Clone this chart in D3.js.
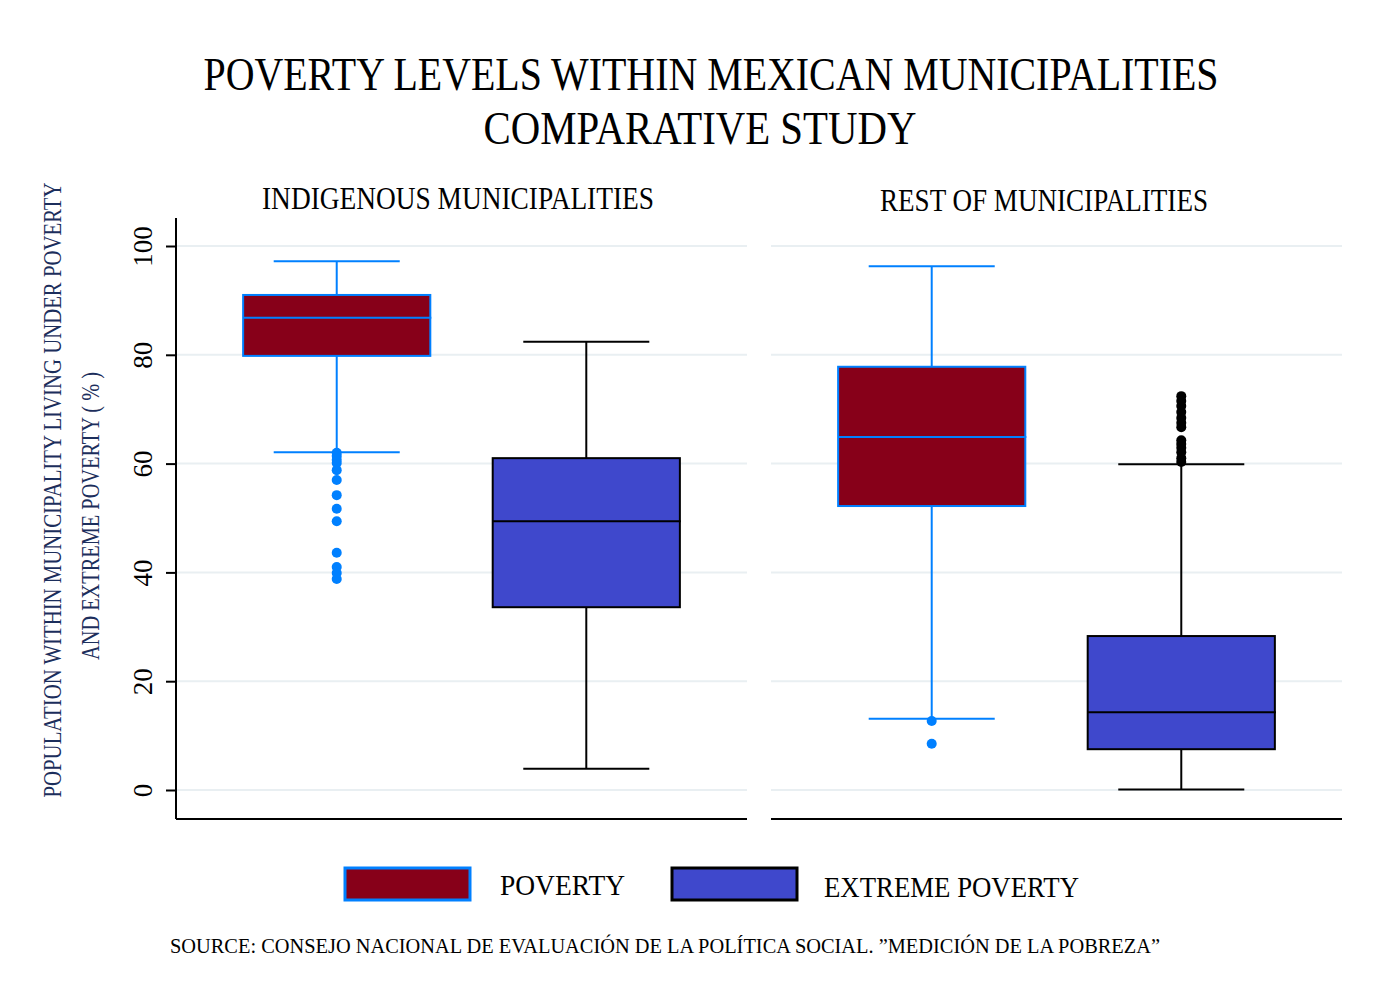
<!DOCTYPE html>
<html>
<head>
<meta charset="utf-8">
<script src="https://cdn.jsdelivr.net/npm/d3@7"></script>
<style>
  body { margin: 0; background: #fff; }
  text { font-family: "Liberation Serif", "DejaVu Serif", serif; }
</style>
</head>
<body>
<svg id="chart" width="1378" height="996"></svg>
<script>
// panels and series
const panels = ["INDIGENOUS MUNICIPALITIES", "REST OF MUNICIPALITIES"];
const series = ["POVERTY", "EXTREME POVERTY"];
const yTicks = [0, 20, 40, 60, 80, 100];

// box stats per panel: [lowWhisker, q1, median, q3, highWhisker]
const povertyStats = [[62.1, 79.8, 86.8, 91.0, 97.2], [13.1, 52.2, 64.9, 77.8, 96.3]];
const extremeStats = [[3.9, 33.6, 49.4, 61.0, 82.4], [0.1, 7.5, 14.3, 28.3, 59.9]];

// outliers
const povertyOutliers = [
    [62.0, 61.4, 60.7, 60.1, 58.8, 57.0, 54.2, 51.7, 49.4, 43.6, 41.0, 39.9, 38.8],
    [12.7, 8.5]
];
const extremeOutliers = [
    [],
    [72.4, 71.5, 70.6, 69.5, 68.4, 67.5, 66.7, 64.3, 63.6, 62.9, 62.1, 61.0, 60.3]
];

const fills = { "POVERTY": "#870019", "EXTREME POVERTY": "#3f48cc" };
const strokes = { "POVERTY": "#0080ff", "EXTREME POVERTY": "#000000" };

const svg = d3.select("#chart");

const y = d3.scaleLinear().domain([0, 100]).range([790, 246]);
const panelX = d3.scaleBand().domain(panels).range([176, 1342]).paddingInner(0.0403);
const xInner = d3.scalePoint().domain(series).range([0, panelX.bandwidth()]).padding(0.644);
const step = xInner.step();
const boxW = step * 0.75;
const capW = step * 0.505;
const yTop = y(105.15), yBot = y(-5.33);

// Titles
svg.append("text")
    .attr("x", 711).attr("y", 90)
    .attr("text-anchor", "middle")
    .attr("font-size", 46)
    .attr("textLength", 1015).attr("lengthAdjust", "spacingAndGlyphs")
    .text("POVERTY LEVELS WITHIN MEXICAN MUNICIPALITIES");

svg.append("text")
    .attr("x", 700).attr("y", 144)
    .attr("text-anchor", "middle")
    .attr("font-size", 46)
    .attr("textLength", 433).attr("lengthAdjust", "spacingAndGlyphs")
    .text("COMPARATIVE STUDY");

// Y axis label
svg.append("text")
    .attr("transform", `translate(61,490) rotate(-90)`)
    .attr("text-anchor", "middle")
    .attr("font-size", 25)
    .attr("fill", "#1c2e5c")
    .attr("textLength", 615).attr("lengthAdjust", "spacingAndGlyphs")
    .text("POPULATION WITHIN MUNICIPALITY LIVING UNDER POVERTY");

svg.append("text")
    .attr("transform", `translate(99,516) rotate(-90)`)
    .attr("text-anchor", "middle")
    .attr("font-size", 25)
    .attr("fill", "#1c2e5c")
    .attr("textLength", 288).attr("lengthAdjust", "spacingAndGlyphs")
    .text("AND EXTREME POVERTY ( % )");

// Panels
panels.forEach((p, pi) => {
    const x0 = panelX(p);
    const g = svg.append("g").attr("transform", `translate(${x0},0)`);

    // gridlines
    g.selectAll(".grid")
        .data(yTicks)
        .join("line")
        .attr("x1", 0).attr("x2", panelX.bandwidth())
        .attr("y1", d => y(d)).attr("y2", d => y(d))
        .attr("stroke", "#e9eff2").attr("stroke-width", 2);

    // panel title
    g.append("text")
        .attr("x", pi === 0 ? 282 : 273).attr("y", pi === 0 ? 209 : 211)
        .attr("text-anchor", "middle")
        .attr("font-size", 31)
        .attr("textLength", pi === 0 ? 392 : 328).attr("lengthAdjust", "spacingAndGlyphs")
        .text(p);

    // bottom line
    g.append("line")
        .attr("x1", 0).attr("x2", panelX.bandwidth())
        .attr("y1", yBot).attr("y2", yBot)
        .attr("stroke", "#000").attr("stroke-width", 2);

    const statsBy = { "POVERTY": povertyStats[pi], "EXTREME POVERTY": extremeStats[pi] };
    const outBy = { "POVERTY": povertyOutliers[pi], "EXTREME POVERTY": extremeOutliers[pi] };

    series.forEach(s => {
        const [lo, q1, med, q3, hi] = statsBy[s];
        const cx = xInner(s);
        const col = strokes[s];
        const b = g.append("g");

        // whiskers
        b.append("line").attr("x1", cx).attr("x2", cx).attr("y1", y(hi)).attr("y2", y(q3))
            .attr("stroke", col).attr("stroke-width", 2);
        b.append("line").attr("x1", cx).attr("x2", cx).attr("y1", y(q1)).attr("y2", y(lo))
            .attr("stroke", col).attr("stroke-width", 2);
        b.selectAll(".cap")
            .data([lo, hi])
            .join("line")
            .attr("x1", cx - capW / 2).attr("x2", cx + capW / 2)
            .attr("y1", d => y(d)).attr("y2", d => y(d))
            .attr("stroke", col).attr("stroke-width", 2);

        // box
        b.append("rect")
            .attr("x", cx - boxW / 2).attr("width", boxW)
            .attr("y", y(q3)).attr("height", y(q1) - y(q3))
            .attr("fill", fills[s]).attr("stroke", col).attr("stroke-width", 2);
        b.append("line")
            .attr("x1", cx - boxW / 2).attr("x2", cx + boxW / 2 + 1)
            .attr("y1", y(med)).attr("y2", y(med))
            .attr("stroke", col).attr("stroke-width", 2);

        // outliers
        b.selectAll(".out")
            .data(outBy[s])
            .join("circle")
            .attr("cx", cx).attr("cy", d => y(d)).attr("r", 5)
            .attr("fill", col);
    });

    // y axis on first panel only
    if (pi === 0) {
        g.append("line")
            .attr("x1", 0).attr("x2", 0).attr("y1", yTop).attr("y2", yBot)
            .attr("stroke", "#000").attr("stroke-width", 2);
        const yAxis = d3.axisLeft(y).tickValues(yTicks).tickSize(10).tickPadding(10);
        const ax = g.append("g").call(yAxis);
        ax.select(".domain").remove();
        ax.selectAll(".tick line").attr("stroke-width", 2);
        ax.selectAll(".tick text")
            .attr("font-family", "Liberation Serif")
            .attr("font-size", 27)
            .attr("fill", "#000")
            .attr("text-anchor", "middle")
            .attr("transform", "rotate(-90)")
            .attr("x", 0).attr("y", -33).attr("dy", "0.35em");
    }
});

// Legend
const legendPos = [345, 672];
const legendTextPos = [500, 824];
const lg = svg.append("g");
series.forEach((s, i) => {
    lg.append("rect")
        .attr("x", legendPos[i]).attr("y", 868)
        .attr("width", 125).attr("height", 32)
        .attr("fill", fills[s]).attr("stroke", strokes[s]).attr("stroke-width", 3);
    lg.append("text")
        .attr("x", legendTextPos[i]).attr("y", i === 0 ? 895 : 897)
        .attr("font-size", 29)
        .attr("textLength", i === 0 ? 125 : 255).attr("lengthAdjust", "spacingAndGlyphs")
        .text(s);
});

// Source
svg.append("text")
    .attr("x", 170).attr("y", 953)
    .attr("font-size", 22)
    .attr("textLength", 990).attr("lengthAdjust", "spacingAndGlyphs")
    .text("SOURCE: CONSEJO NACIONAL DE EVALUACIÓN DE LA POLÍTICA SOCIAL. \u201DMEDICIÓN DE LA POBREZA\u201D");
</script>
</body>
</html>
